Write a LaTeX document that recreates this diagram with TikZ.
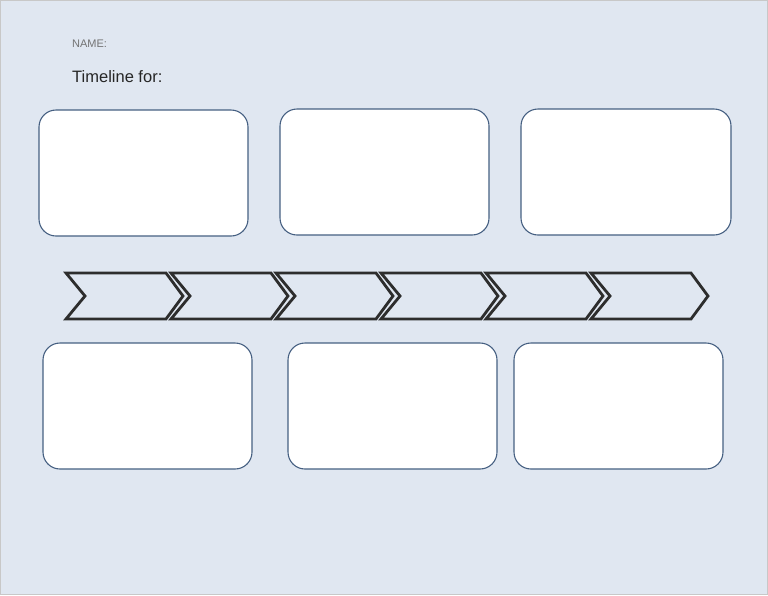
\documentclass[tikz,border=0pt]{standalone}
\usepackage{fontspec}
\setmainfont{Liberation Sans}
\definecolor{bgblue}{RGB}{224,231,241}
\definecolor{boxline}{RGB}{70,96,130}
\definecolor{chev}{RGB}{45,45,45}
\definecolor{pageline}{RGB}{200,200,200}
\begin{document}
\begin{tikzpicture}[x=1pt,y=-1pt,
  card/.style={draw=boxline,line width=1.1pt,fill=white,rounded corners=17pt},
  chevron/.style={draw=chev,line width=2.8pt,line join=miter},
  lbl/.style={anchor=base west,inner sep=0pt}]
\useasboundingbox (0,0) rectangle (768,595);
\fill[bgblue,draw=pageline,line width=1pt] (0.5,0.5) rectangle (767.5,594.5);
\node[lbl,text=black!55,font=\fontsize{11}{13}\selectfont] (name) at (72,47.5) {NAME:};
\node[lbl,text=black!85,font=\fontsize{16.5}{19}\selectfont] (title) at (72,82) {Timeline for:};
% top cards
\draw[card] (39,110) rectangle (248,236);
\draw[card] (280,109) rectangle (489,235);
\draw[card] (521,109) rectangle (731,235);
% bottom cards
\draw[card] (43,343) rectangle (252,469);
\draw[card] (288,343) rectangle (497,469);
\draw[card] (514,343) rectangle (723,469);
% chevrons
\foreach \i in {0,...,5}{
  \pgfmathsetmacro{\xo}{66+105*\i}
  \draw[chevron] (\xo,273) -- (\xo+100,273) -- (\xo+117,296) -- (\xo+100,319) -- (\xo,319) -- (\xo+19,296) -- cycle;
}
\end{tikzpicture}
\end{document}
